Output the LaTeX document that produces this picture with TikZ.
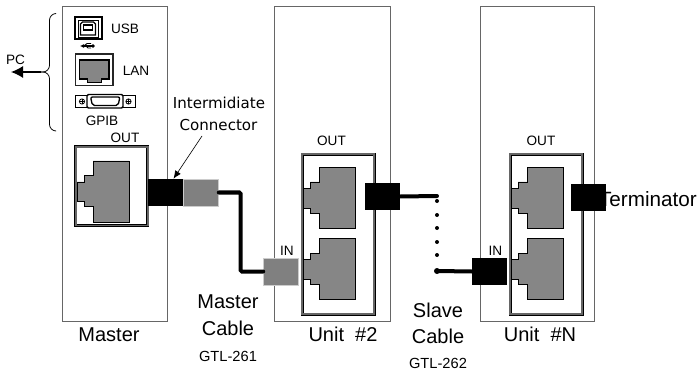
\documentclass[tikz,border=0pt]{standalone}
\usepackage{fontspec}
\setmainfont{Liberation Sans}
\newfontfamily\gothicfont{DejaVu Sans}
\definecolor{PanelLine}{HTML}{666666}
\definecolor{JackGray}{HTML}{868686}
\definecolor{PlugGray}{HTML}{808080}
\usetikzlibrary{positioning,arrows.meta}

\begin{document}
\begin{tikzpicture}[
  x=0.75pt,y=-0.75pt,
  panel/.style={
    draw=PanelLine,
    line width=0.7pt,
    fill=white,
    anchor=north west,
    inner sep=0pt
  },
  frame/.style={
    draw=black,
    line width=0.4pt,
    double=black!60,
    double distance=1.3pt,
    fill=white,
    anchor=north west,
    inner sep=0pt
  },
  plugblack/.style={
    fill=black,
    minimum width=26.25pt,
    minimum height=20.25pt,
    inner sep=0pt
  },
  pluggray/.style={
    plugblack,
    fill=PlugGray,
    draw=black!20,
    line width=0.4pt
  },
  cable/.style={line width=3pt,line cap=round,rounded corners=1pt},
  lbl/.style={font=\fontsize{10.2}{12}\selectfont,inner sep=0pt},
  biglbl/.style={font=\fontsize{15}{18}\selectfont,inner sep=0pt},
  partlbl/.style={font=\fontsize{11}{13}\selectfont,inner sep=0pt},
  callout/.style={font=\gothicfont\fontsize{11.3}{13}\selectfont,inner sep=0pt},
  pics/jack/.style={code={
    \draw[fill=JackGray,line width=0.6pt] (0,-9.5)--(7,-9.5)--(7,-16)--(16,-16)--(16,-30.5)
      --(52,-30.5)--(52,30.5)--(16,30.5)--(16,15)--(7,15)--(7,10)--(0,10)--cycle;
  }}
]
\useasboundingbox (0,0) rectangle (698,370);

% panels
\node[panel,minimum width=79pt,minimum height=236.25pt] (master) at (62,6) {};
\node[panel,minimum width=87pt,minimum height=236.25pt] (unitb) at (274,6) {};
\node[panel,minimum width=85.5pt,minimum height=236.25pt] (unitn) at (480,6) {};

% ports of the panels
\node[frame,minimum width=54pt,minimum height=59pt] (frameout) at (75.5,146.5) {};
\node[frame,minimum width=54pt,minimum height=120pt] (frameb) at (302,154) {};
\node[frame,minimum width=54pt,minimum height=120pt] (framen) at (510,154) {};
\pic at (77,191.5) {jack};
\pic at (303.5,198) {jack};
\pic at (303.5,269) {jack};
\pic at (511,198) {jack};
\pic at (511,269) {jack};

% usb
\draw[line width=1pt] (75,17) rectangle (102,39);
\draw[line width=0.5pt,fill=white] (78,20) rectangle (98,37);
\draw[line width=1pt] (80.5,24)--(82.5,22)--(93.5,22)--(95.5,24)--(95.5,35)--(80.5,35)--cycle;
\draw[line width=1pt] (83.5,25) rectangle (92.5,30);
\draw[line width=0.8pt,-{Latex[length=3pt,width=3pt]}] (94,46)--(80,46);
\draw[line width=0.7pt,fill=black] (93,46) circle (1.3);
\draw[line width=0.7pt] (84,46)--(87,43.5)--(91,43.5);
\draw[line width=0.7pt] (86,46)--(88,48)--(91,48);

% lan
\draw[line width=1pt,draw=black!85] (75.5,54) rectangle (113,85.5);
\draw[line width=1pt,fill=JackGray] (79.5,60)--(109,60)--(109,79)--(101.5,79)--(101.5,82.5)
  --(87.5,82.5)--(87.5,79)--(79.5,79)--cycle;

% gpib
\draw[line width=0.7pt] (75,95) rectangle (135,107.5);
\draw[line width=1pt,fill=white,rounded corners=1pt] (87,94.5) rectangle (123,108);
\draw[line width=1pt,rounded corners=1.5pt] (90.5,97)--(120,97)--(118,105.5)--(92.5,105.5)--cycle;
\foreach \sx in {82,128.5}{
  \draw[line width=0.6pt] (\sx,101.5) circle (2.6);
  \draw[line width=0.5pt] (\sx-2.5,101.5)--(\sx+2.5,101.5) (\sx,99)--(\sx,104);
}

% brace to the pc
\coordinate (bracetip) at (41,72);
\coordinate (pcend) at (11,72);
\draw[line width=0.6pt,rounded corners=5pt] (56,13.5)--(49.5,13.5)--(49.5,72)--(bracetip);
\draw[line width=0.6pt,rounded corners=5pt] (bracetip)--(49.5,72)--(49.5,131)--(56,131);
\draw[line width=1pt,-{Latex[length=9pt,width=9pt]}] (bracetip)--(pcend);

% text under the plugs
\node[font=\fontsize{15.5}{18}\selectfont,inner sep=0pt,anchor=east] (terminator) at (697,199) {Terminator};

% plugs
\node[plugblack] (outplug) at (165.5,192.5) {};
\node[pluggray] (masterplug) at (201,192.5) {};
\node[pluggray] (inplugb) at (281,271.5) {};
\node[plugblack] (outplugb) at (382.5,196.5) {};
\node[plugblack] (inplugn) at (489.5,271.5) {};
\node[plugblack] (termplug) at (588.5,197.5) {};

% cables
\coordinate (masterbend) at (240.5,271.5);
\coordinate (slavetop) at (437,196);
\coordinate (slavebottom) at (437,271);
\draw[cable] (masterplug.east) -| (masterbend) -- (inplugb.west);
\draw[cable] (outplugb.east) -- (slavetop);
\foreach \dy in {201,215,228,242,255}{
  \fill (437,\dy) circle (2);
}
\fill (slavebottom) circle (3);
\draw[cable] (slavebottom) -- (inplugn.west);

% labels
\node[lbl] (usblbl) at (125,29) {USB};
\node[lbl] (lanlbl) at (136,71) {LAN};
\node[lbl] (gpiblbl) at (102,121) {GPIB};
\node[lbl] (pclbl) at (15.5,60) {PC};
\node[lbl] (outm) at (125,138) {OUT};
\node[lbl] (outb) at (331.5,141) {OUT};
\node[lbl] (outn) at (541,141) {OUT};
\node[lbl] (inb) at (287,251) {IN};
\node[lbl] (inn) at (495.5,251) {IN};
\node[callout] (intermed) at (219,103) {Intermidiate};
\node[callout] (connector) at (218.5,125) {Connector};
\coordinate (calloutstart) at (202,136);
\draw[line width=0.5pt,-{Latex[length=6pt,width=5pt]}] (calloutstart) -- ([xshift=6pt]outplug.north);
\node[biglbl] (masterlbl) at (109,335) {Master};
\node[biglbl] (cablem) at (228,302) {Master};
\node[biglbl] (cablem2) at (228,328) {Cable};
\node[partlbl] (gtlm) at (228,356) {GTL-261};
\node[biglbl] (unitblbl) at (343,334) {Unit\ \ \#2};
\node[biglbl] (slave) at (438,310) {Slave};
\node[biglbl] (cables) at (438,336) {Cable};
\node[partlbl] (gtls) at (438,363) {GTL-262};
\node[biglbl] (unitnlbl) at (540,334) {Unit\ \ \#N};
\end{tikzpicture}
\end{document}
